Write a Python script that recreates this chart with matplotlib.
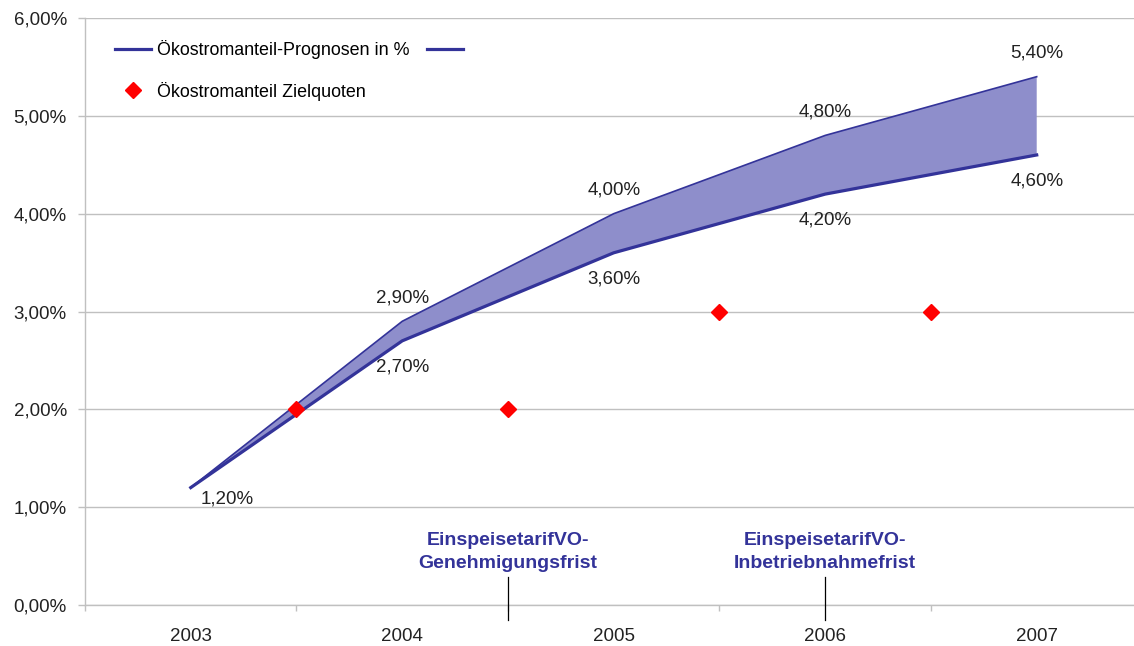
import numpy as np
import matplotlib.pyplot as plt

plt.rcParams['font.family'] = ['Liberation Sans', 'DejaVu Sans']

# data
jahre = ['2003', '2004', '2005', '2006', '2007']
prognose_hoch = [1.2, 2.9, 4.0, 4.8, 5.4]
prognose_tief = [1.2, 2.7, 3.6, 4.2, 4.6]
ziel_pos = [0.5, 1.5, 2.5, 3.5]
ziel_werte = [2.0, 2.0, 3.0, 3.0]
fristen_pos = [1.5, 3.0]
fristen_text = ['EinspeisetarifVO-\nGenehmigungsfrist', 'EinspeisetarifVO-\nInbetriebnahmefrist']

navy = '#333399'
grau = '#c0c0c0'
fs = 13.5

def pct(v):
    return f'{v:.2f}'.replace('.', ',') + '%'

fig = plt.figure(figsize=(11.34, 6.46), dpi=100)
ax = fig.add_axes([85/1134, 1 - 605/646, 1 - 85/1134, (605 - 18)/646])

x = np.arange(len(jahre))

# band between the two forecasts
ax.fill_between(x, prognose_tief, prognose_hoch, facecolor='#8e8ecb', edgecolor='none', zorder=2)
l_hoch, = ax.plot(x, prognose_hoch, color=navy, lw=1.2, zorder=3)
l_tief, = ax.plot(x, prognose_tief, color=navy, lw=2.3, zorder=3)

# target quotas
ziel, = ax.plot(ziel_pos, ziel_werte, linestyle='none', marker='D', markersize=8.5,
                color='red', markeredgecolor='red', zorder=4)

# data labels
for i, v in enumerate(prognose_hoch[1:], start=1):
    ax.annotate(pct(v), (x[i], v), xytext=(0, 17), textcoords='offset points',
                ha='center', va='center', fontsize=fs, color='#222222')
for i, v in enumerate(prognose_tief[1:], start=1):
    ax.annotate(pct(v), (x[i], v), xytext=(0, -19), textcoords='offset points',
                ha='center', va='center', fontsize=fs, color='#222222')
ax.annotate(pct(prognose_tief[0]), (x[0], prognose_tief[0]), xytext=(26, -8),
            textcoords='offset points', ha='center', va='center', fontsize=fs, color='#222222')

# deadline markers
for p, t in zip(fristen_pos, fristen_text):
    ax.plot([p, p], [0.29, -0.15], color='black', lw=0.9, clip_on=False, zorder=5)
    ax.text(p, 0.34, t, ha='center', va='bottom', fontsize=14, fontweight='bold',
            color=navy, linespacing=1.45)

# axes
ax.set_xlim(-0.5, 4.46)
ax.set_ylim(0, 6)
ax.set_yticks(np.arange(0, 7, 1))
ax.set_yticklabels([pct(v) for v in range(7)])
ax.set_xticks(np.arange(-0.5, 4.5, 1))
ax.set_xticklabels([])
ax.set_xticks(x, minor=True)
ax.set_xticklabels(jahre, minor=True)
ax.tick_params(axis='x', which='major', length=4, color=grau, width=1)
ax.tick_params(axis='x', which='minor', length=0, pad=16.5, labelsize=fs, labelcolor='#222222')
ax.tick_params(axis='y', length=5, color=grau, width=1, labelsize=fs, labelcolor='#222222', pad=8)
ax.grid(axis='y', color=grau, lw=1)
ax.set_axisbelow(True)
for s in ['top', 'right']:
    ax.spines[s].set_visible(False)
for s in ['left', 'bottom']:
    ax.spines[s].set_color(grau)
    ax.spines[s].set_linewidth(1)

# legend
leg = ax.legend([l_hoch, ziel, l_tief],
                ['Ökostromanteil-Prognosen in %', 'Ökostromanteil Zielquoten', ''],
                ncol=2, loc='upper left', bbox_to_anchor=(0.029, 0.962), frameon=False,
                fontsize=12.9, handlelength=2.0, handletextpad=0.3, columnspacing=1.0,
                labelspacing=1.25, borderpad=0, borderaxespad=0)
for h in leg.legend_handles:
    if h.get_linestyle() != 'None':
        h.set_linewidth(2.3)

fig.savefig('out.png', dpi=100)
